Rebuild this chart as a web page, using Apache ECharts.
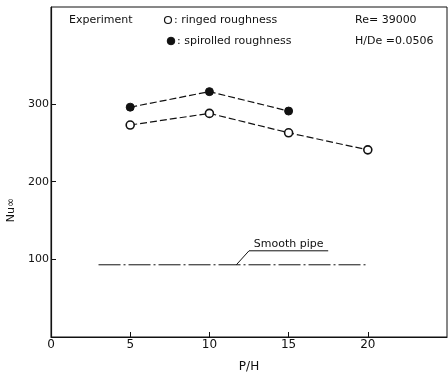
<!DOCTYPE html>
<html>
<head>
<meta charset="utf-8">
<script src="https://cdn.jsdelivr.net/npm/echarts@6/dist/echarts.min.js"></script>
<style>
  html, body { margin: 0; padding: 0; background: #fff; }
  #chart { width: 448px; height: 372px; }
</style>
</head>
<body>
<div id="chart"></div>
<script>
// P/H positions and Nu values
const ringedX = [5, 10, 15, 20]
const ringedNu = [273, 288, 263, 241]
const spiralX = [5, 10, 15]
const spiralNu = [296, 316, 291]
const smoothX = [3, 20]
const smoothNu = [93, 93]
const xTicks = [0, 5, 10, 15, 20]
const yTicks = [100, 200, 300]

const FONT = 'DejaVu Sans'
const INK = '#111'

const chart = echarts.init(document.getElementById('chart'), null, { renderer: 'canvas' })

const zip = (xs, ys) => xs.map((x, i) => [x, ys[i]])

chart.setOption({
  animation: false,
  textStyle: { fontFamily: FONT, color: INK },
  grid: {
    left: 51, right: 1, top: 7, bottom: 35,
    outerBoundsMode: 'none', containLabel: false,
    show: true, borderColor: INK, borderWidth: 1,
  },
  xAxis: {
    type: 'value', min: 0, max: 25, interval: 5,
    name: 'P/H', nameLocation: 'middle', nameGap: 24,
    nameTextStyle: { fontSize: 12, color: INK },
    axisLine: { lineStyle: { color: INK, width: 1.2 } },
    axisTick: { inside: true, length: 5, lineStyle: { color: INK }, customValues: xTicks },
    axisLabel: { fontSize: 12, color: INK, margin: 2, customValues: xTicks },
    splitLine: { show: false },
  },
  yAxis: {
    type: 'value', min: 0, max: 425, interval: 100,
    name: 'Nu\u221E', nameLocation: 'middle', nameGap: 33, nameRotate: 90,
    nameTextStyle: { fontSize: 11, color: INK, padding: [0, 76, 0, 0] },
    axisLine: { lineStyle: { color: INK, width: 1.2 } },
    axisTick: { inside: true, length: 5, lineStyle: { color: INK }, customValues: yTicks },
    axisLabel: { fontSize: 11, color: INK, margin: 2, customValues: yTicks },
    splitLine: { show: false },
  },
  series: [
    {
      type: 'line', data: zip(spiralX, spiralNu),
      symbol: 'circle', symbolSize: 8,
      itemStyle: { color: INK, borderColor: INK, borderWidth: 1 },
      lineStyle: { color: INK, width: 1.2, type: [7, 3] },
    },
    {
      type: 'line', data: zip(ringedX, ringedNu),
      symbol: 'circle', symbolSize: 8,
      itemStyle: { color: '#fff', borderColor: INK, borderWidth: 1.6 },
      lineStyle: { color: INK, width: 1.2, type: [7, 3] },
    },
    {
      type: 'line', data: zip(smoothX, smoothNu),
      symbol: 'none',
      lineStyle: { color: INK, width: 1, type: [22, 3, 2, 3] },
    },
  ],
})

// annotation and legend text
const p0 = chart.convertToPixel({ gridIndex: 0 }, [11.7, smoothNu[0]])
const p1 = chart.convertToPixel({ gridIndex: 0 }, [12.5, 111])
const p2 = chart.convertToPixel({ gridIndex: 0 }, [17.5, 111])

const txt = (x, y, s) => ({
  type: 'text', x, y,
  style: { text: s, fill: INK, font: `11px "${FONT}"`, textVerticalAlign: 'middle' },
})

chart.setOption({
  graphic: [
    { type: 'polyline', shape: { points: [p0, p1, p2] }, style: { stroke: INK, lineWidth: 1, fill: null } },
    { type: 'text', x: (p1[0] + p2[0]) / 2, y: p1[1] - 1,
      style: { text: 'Smooth pipe', fill: INK, font: `11px "${FONT}"`, textAlign: 'center', textVerticalAlign: 'bottom' } },
    txt(69, 20, 'Experiment'),
    { type: 'circle', shape: { cx: 168, cy: 20, r: 3.5 }, style: { fill: '#fff', stroke: INK, lineWidth: 1.2 } },
    txt(174, 20, ': ringed roughness'),
    { type: 'circle', shape: { cx: 171, cy: 41, r: 3.8 }, style: { fill: INK, stroke: INK } },
    txt(177, 41, ': spirolled roughness'),
    txt(355, 20, 'Re= 39000'),
    txt(355, 41, 'H/De =0.0506'),
  ],
})
</script>
</body>
</html>
